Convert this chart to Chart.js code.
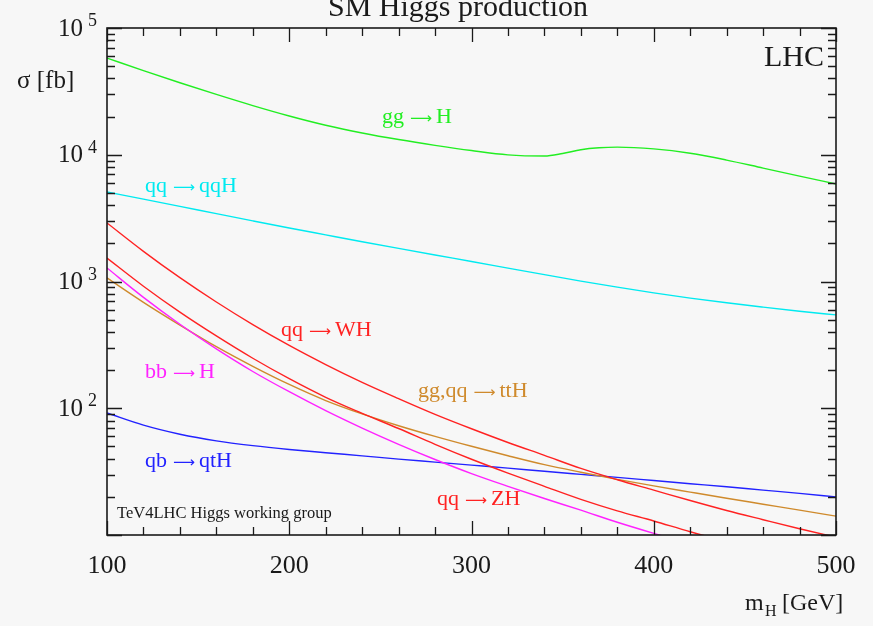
<!DOCTYPE html>
<html><head><meta charset="utf-8">
<script src="https://cdn.jsdelivr.net/npm/chart.js@4.4.1/dist/chart.umd.min.js"></script>
<style>html,body{margin:0;padding:0;background:#f7f7f7;}canvas{display:block;}</style>
</head><body>
<canvas id="c" width="873" height="626"></canvas>
<script>
// Higgs mass grid (GeV)
const massGrid = [100,120,140,160,180,200,220,240,260,280,300,320,340,360,380,400,420,440,460,480,500];
const ggHMass  = [100,120,140,160,180,200,220,240,260,280,300,320,340,350,360,370,380,400,420,440,460,480,500];
// cross sections (fb)
const ggH  = [57940,46130,36980,29920,24430,20230,17100,14860,13180,11860,10790,9980,9770,10230,10960,11350,11480,11120,10280,9080,7850,6790,5870];
const qqH  = [5082,4467,3917,3428,3006,2642,2333,2061,1824,1618,1439,1276,1132,1007,902,813,740,679,628,583,545];
const WH   = [2897,1730,1072,689,457,313,221,160,119,89.5,68.9,53.7,42.5,33.5,27.3,22.6,18.7,15.6,13.2,11.2,9.6];
const ZH   = [1531,918,573,372,248,171,122,91.2,69.2,51.9,39.6,30.8,24.2,19.1,15.5,12.9,10.6,8.9,7.6,6.5,5.6];
const bbH  = [1279,750,460,294,195,135,95.7,69.7,51.9,39.4,30.5,24.2,19.4,15.7,12.6,10.3,8.5,7.0,5.8,4.9,4.1];
const ttH  = [1067,685,453,306,214,154,115,90.2,72.8,60.0,50.1,42.2,35.9,31.3,27.5,24.4,21.8,19.5,17.5,15.7,14.1];
const qtH  = [91.8,73.6,62.4,55.3,50.7,47.3,44.6,42.1,39.7,37.6,35.6,33.7,31.8,30.1,28.5,26.9,25.4,24.0,22.6,21.3,20.0];

const xTickLabels = ['100','200','300','400','500'];
const yDecades = [2,3,4,5];

const seriesNames  = ['gg \u2192 H','qq \u2192 qqH','qq \u2192 WH','qq \u2192 ZH','bb \u2192 H','gg,qq \u2192 ttH','qb \u2192 qtH'];
const seriesColors = ['#22ee22','#00eaf0','#ff2222','#ff2222','#ff22ff','#cf8a2c','#2222ff'];

function pts(xs, ys){ return xs.map((x,i)=>({x:x,y:ys[i]})); }

const datasets = [
  {data: pts(ggHMass, ggH)},
  {data: pts(massGrid, qqH)},
  {data: pts(massGrid, WH)},
  {data: pts(massGrid, ZH)},
  {data: pts(massGrid, bbH)},
  {data: pts(massGrid, ttH)},
  {data: pts(massGrid, qtH)}
].map((d,i)=>Object.assign(d,{label:seriesNames[i],borderColor:seriesColors[i],borderWidth:1.4,pointRadius:0,fill:false,cubicInterpolationMode:'monotone'}));

const SERIF = '"Liberation Serif","DejaVu Serif",serif';

function drawReaction(c, name, x, y){
  const parts = name.split(' \u2192 ');
  c.font='22px '+SERIF; c.textAlign='left'; c.textBaseline='alphabetic';
  c.fillText(parts[0], x, y);
  let cx = x + c.measureText(parts[0]).width + 6;
  c.font='15px "DejaVu Sans",sans-serif';
  const w = c.measureText('\u27F6').width;
  const target = 22;
  c.save(); c.translate(cx, y); c.scale(target/w, 1); c.fillText('\u27F6', 0, 0); c.restore();
  cx += target + 4;
  c.font='22px '+SERIF;
  c.fillText(parts[1], cx, y);
}

const decor = {
  id:'decor',
  beforeDraw(chart){
    const c=chart.ctx; c.save(); c.fillStyle='#f7f7f7'; c.fillRect(0,0,chart.width,chart.height); c.restore();
  },
  afterDraw(chart){
    const c=chart.ctx, a=chart.chartArea, xs=chart.scales.x, ys=chart.scales.y;
    c.save();
    c.strokeStyle='#1a1a1a'; c.lineWidth=1.6;
    c.strokeRect(a.left,a.top,a.right-a.left,a.bottom-a.top);
    c.lineWidth=1.3;
    for(let m=100;m<=500;m+=20){
      const px=Math.round(xs.getPixelForValue(m))+0.5;
      const L=(m%100===0)?14:8;
      c.beginPath(); c.moveTo(px,a.bottom); c.lineTo(px,a.bottom-L); c.moveTo(px,a.top); c.lineTo(px,a.top+L); c.stroke();
    }
    for(let e=1;e<=5;e++){
      for(let k=1;k<=9;k++){
        const v=k*Math.pow(10,e); if(v>100000) break;
        const py=Math.round(ys.getPixelForValue(v))+0.5;
        const L=(k===1)?15:8;
        c.beginPath(); c.moveTo(a.left,py); c.lineTo(a.left+L,py); c.moveTo(a.right,py); c.lineTo(a.right-L,py); c.stroke();
      }
    }
    c.fillStyle='#1a1a1a';
    c.font='26px '+SERIF; c.textAlign='center'; c.textBaseline='alphabetic';
    xTickLabels.forEach(t=>{ c.fillText(t, xs.getPixelForValue(+t), 573); });
    yDecades.forEach(e=>{
      const py=ys.getPixelForValue(Math.pow(10,e));
      c.font='25px '+SERIF; c.textAlign='right'; c.textBaseline='middle';
      c.fillText('10',83,py+1);
      c.font='18px '+SERIF; c.textAlign='left'; c.textBaseline='alphabetic';
      c.fillText(String(e),88,py-2);
    });
    c.font='25px '+SERIF; c.textAlign='left'; c.textBaseline='alphabetic';
    c.fillText('\u03C3 [fb]',17,88);
    c.font='24px '+SERIF;
    c.fillText('m',745,610);
    c.font='16px '+SERIF; c.fillText('H',765,616);
    c.font='24px '+SERIF; c.fillText('[GeV]',782,610);
    c.font='30px '+SERIF; c.textAlign='center';
    c.fillText('SM Higgs production',458,16);
    c.font='30px '+SERIF; c.textAlign='right';
    c.fillText('LHC',824,66);
    c.font='16.5px '+SERIF; c.textAlign='left';
    c.fillText('TeV4LHC Higgs working group',117,518);
    const lab=[[0,382,123],[1,145,192],[2,281,336],[3,437,505],[4,145,378],[5,418,397],[6,145,467]];
    lab.forEach(([i,x,y])=>{ c.fillStyle=seriesColors[i]; drawReaction(c, seriesNames[i], x, y); });
    c.restore();
  }
};

new Chart(document.getElementById('c'),{
  type:'line',
  data:{datasets:datasets},
  options:{
    responsive:false, animation:false, devicePixelRatio:1,
    layout:{padding:{left:107,right:37,top:28,bottom:91}},
    scales:{
      x:{type:'linear',min:100,max:500,display:false},
      y:{type:'logarithmic',min:10,max:100000,display:false}
    },
    plugins:{legend:{display:false},tooltip:{enabled:false},title:{display:false}}
  },
  plugins:[decor]
});
</script>
</body></html>
